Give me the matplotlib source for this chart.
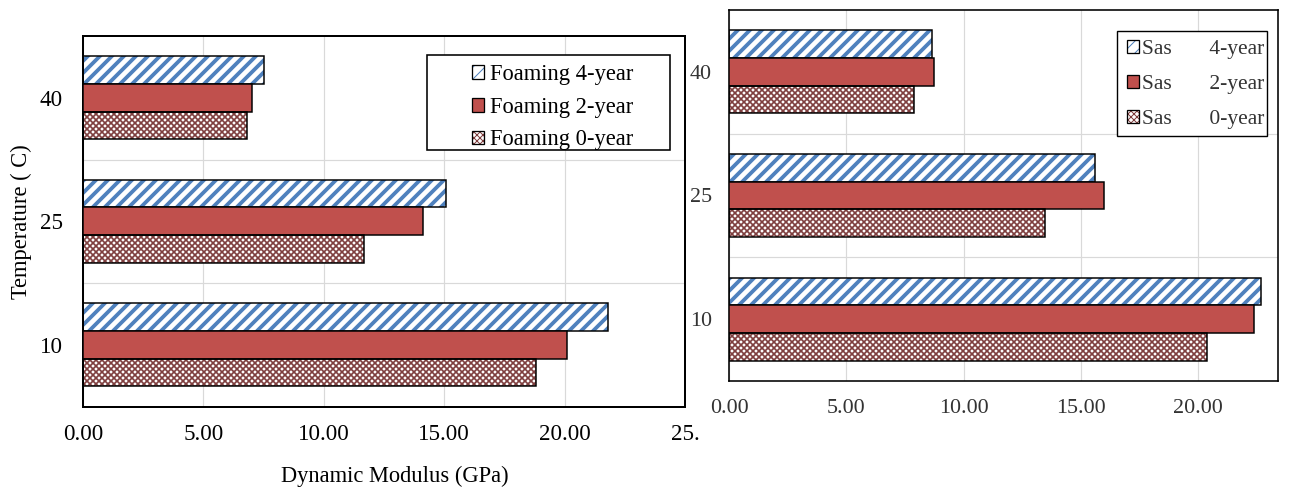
import matplotlib
matplotlib.use("Agg")
import matplotlib.pyplot as plt
from matplotlib.patches import Rectangle, Patch
from matplotlib.legend_handler import HandlerTuple
import numpy as np

plt.rcParams['font.family'] = ['Liberation Serif', 'DejaVu Serif']

temps = ["10", "25", "40"]
series = ["4-year", "2-year", "0-year"]
foam_4 = [21.8, 15.07, 7.52]
foam_2 = [20.1, 14.12, 7.02]
foam_0 = [18.8, 11.67, 6.81]
sas_4 = [22.67, 15.59, 8.65]
sas_2 = [22.36, 15.98, 8.74]
sas_0 = [20.37, 13.47, 7.89]
left_xticks = [0, 5, 10, 15, 20, 25]
left_xticklabels = ["0.00", "5.00", "10.00", "15.00", "20.00", "25."]
right_xticks = [0, 5, 10, 15, 20]
right_xticklabels = ["0.00", "5.00", "10.00", "15.00", "20.00"]
foam_labels = ["Foaming 4-year", "Foaming 2-year", "Foaming 0-year"]
sas_labels = ["Sas       4-year", "Sas       2-year", "Sas       0-year"]

W, H, DPI = 1290, 487, 72
fig = plt.figure(figsize=(W / DPI, H / DPI), dpi=DPI)

BLUE = '#4F81BD'
RED = '#C0504D'
BROWN = '#7E3E3E'
BH = 0.224
STRIPE = '//'
CHECK = 'xxxx'
STRIPE_LW = 3.8
CHECK_LW = 1.7

def px_rect(x0, y0, x1, y1):
    return [x0 / W, 1 - y1 / H, (x1 - x0) / W, (y1 - y0) / H]

def hatched(ax, y, vals, color, hatch, hlw, edge_lw):
    bars = ax.barh(y, vals, height=BH, facecolor='white', edgecolor=color,
                   hatch=hatch, linewidth=0, zorder=2)
    for b in bars:
        if hasattr(b, 'set_hatch_linewidth'):
            b.set_hatch_linewidth(hlw)
    ax.barh(y, vals, height=BH, facecolor='none', edgecolor='black',
            linewidth=edge_lw, zorder=3)

def handles_for(edge_lw):
    h4a = Patch(facecolor='white', edgecolor=BLUE, hatch=STRIPE, linewidth=0)
    h4b = Patch(facecolor='none', edgecolor='black', linewidth=edge_lw)
    h2 = Patch(facecolor=RED, edgecolor='black', linewidth=edge_lw)
    h0a = Patch(facecolor='white', edgecolor=BROWN, hatch=CHECK, linewidth=0)
    h0b = Patch(facecolor='none', edgecolor='black', linewidth=edge_lw)
    for p, l in ((h4a, STRIPE_LW), (h0a, CHECK_LW)):
        if hasattr(p, 'set_hatch_linewidth'):
            p.set_hatch_linewidth(l)
    return [(h4a, h4b), (h2,), (h0a, h0b)]

def draw(ax, v4, v2, v0, xlim, xticks, xticklabels, tcolor, spine_lw, fs, xpad, ypad):
    y = np.arange(len(temps))
    hatched(ax, y + BH, v4, BLUE, STRIPE, STRIPE_LW, 1.5)
    ax.barh(y, v2, height=BH, facecolor=RED, edgecolor='black', linewidth=1.5, zorder=3)
    hatched(ax, y - BH, v0, BROWN, CHECK, CHECK_LW, 1.5)
    ax.set_xlim(*xlim)
    ax.set_ylim(-0.5, len(temps) - 0.5)
    ax.set_xticks(xticks)
    ax.set_xticklabels(xticklabels)
    ax.set_yticks(y)
    ax.set_yticklabels(temps)
    ax.set_yticks(np.arange(len(temps) - 1) + 0.5, minor=True)
    ax.tick_params(axis='both', which='both', length=0, labelsize=fs, colors=tcolor)
    ax.tick_params(axis='x', pad=xpad)
    ax.tick_params(axis='y', pad=ypad)
    ax.grid(True, axis='x', which='major', color='#D9D9D9', linewidth=1.2, zorder=0)
    ax.grid(True, axis='y', which='minor', color='#D9D9D9', linewidth=1.2, zorder=0)
    ax.set_axisbelow(True)
    for s in ax.spines.values():
        s.set_linewidth(spine_lw)
        s.set_color('black')

# Left chart
axL = fig.add_axes(px_rect(83, 36, 685, 406.5))
draw(axL, foam_4, foam_2, foam_0, (0, 25), left_xticks, left_xticklabels,
     'black', 2.0, 23, 18, 20)
fig.text(395 / W, 1 - 476 / H, "Dynamic Modulus (GPa)", ha='center', va='center', fontsize=22.5)
fig.text(21 / W, 1 - 222 / H, "Temperature ( C)", ha='center', va='center',
         rotation=90, fontsize=22.5)

# Right chart
axR = fig.add_axes(px_rect(729, 10, 1278, 381))
draw(axR, sas_4, sas_2, sas_0, (0, 23.4), right_xticks, right_xticklabels,
     '#333333', 1.6, 22, 18, 17)

# Legends
hl = handles_for(1.3)
legL = fig.legend(hl, foam_labels, loc='upper left',
                  bbox_to_anchor=(472 / W, 1 - 64 / H), frameon=False,
                  fontsize=22.5, borderpad=0, borderaxespad=0,
                  handlelength=0.55, handleheight=0.55, handletextpad=0.25,
                  labelspacing=0.52,
                  handler_map={tuple: HandlerTuple(ndivide=1, pad=0)})
fig.patches.append(Rectangle((427 / W, 1 - 150 / H), 243 / W, 95 / H,
                             transform=fig.transFigure, facecolor='white',
                             edgecolor='black', linewidth=1.6, zorder=1))
legR = fig.legend(hl, sas_labels, loc='upper left',
                  bbox_to_anchor=(1127 / W, 1 - 40 / H), frameon=False,
                  fontsize=21.5, borderpad=0, borderaxespad=0,
                  handlelength=0.55, handleheight=0.55, handletextpad=0.15,
                  labelspacing=0.75,
                  handler_map={tuple: HandlerTuple(ndivide=1, pad=0)})
for t in legR.get_texts():
    t.set_color('#333333')
fig.patches.append(Rectangle((1117 / W, 1 - 136 / H), 150 / W, 105 / H,
                             transform=fig.transFigure, facecolor='white',
                             edgecolor='black', linewidth=1.4, zorder=1))
legL.set_zorder(5)
legR.set_zorder(5)

fig.savefig("out.png", dpi=DPI)
